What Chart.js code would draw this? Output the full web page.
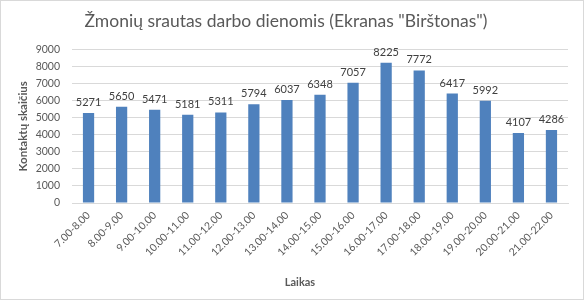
<!DOCTYPE html>
<html>
<head>
<meta charset="utf-8">
<script src="https://cdn.jsdelivr.net/npm/chart.js@4/dist/chart.umd.min.js"></script>
<style>
html,body{margin:0;padding:0;background:#fff;}
#wrap{width:584px;height:300px;position:relative;}
</style>
</head>
<body>
<div id="wrap"><canvas id="c" width="584" height="300"></canvas></div>
<script>
const categories = ["7.00-8.00","8.00-9.00","9.00-10.00","10.00-11.00","11.00-12.00","12.00-13.00","13.00-14.00","14.00-15.00","15.00-16.00","16.00-17.00","17.00-18.00","18.00-19.00","19.00-20.00","20.00-21.00","21.00-22.00"];
const contacts = [5271,5650,5471,5181,5311,5794,6037,6348,7057,8225,7772,6417,5992,4107,4286];
const yTicks = [0,1000,2000,3000,4000,5000,6000,7000,8000,9000];
const chartTitle = 'Žmonių srautas darbo dienomis (Ekranas "Birštonas")';
const yTitle = 'Kontaktų skaičius';
const xTitle = 'Laikas';

const FONT = 'Lato, "Open Sans", sans-serif';

const frame = {
  id: 'frame',
  beforeDraw(chart) {
    const ctx = chart.ctx;
    ctx.save();
    ctx.fillStyle = '#fff';
    ctx.fillRect(0, 0, chart.width, chart.height);
    ctx.strokeStyle = '#d9d9d9';
    ctx.lineWidth = 1;
    ctx.strokeRect(0.5, 0.5, chart.width - 1, chart.height - 1);
    ctx.restore();
  }
};

const labels = {
  id: 'labels',
  afterDatasetsDraw(chart) {
    const ctx = chart.ctx;
    const meta = chart.getDatasetMeta(0);
    ctx.save();
    ctx.font = '11px ' + FONT;
    ctx.fillStyle = '#404040';
    ctx.textAlign = 'center';
    ctx.textBaseline = 'bottom';
    meta.data.forEach((bar, i) => {
      ctx.fillText(String(contacts[i]), bar.x, bar.y - 5);
    });
    ctx.font = 'bold 11px ' + FONT;
    ctx.fillStyle = '#595959';
    ctx.textBaseline = 'middle';
    ctx.fillText(xTitle, 300, 282);
    ctx.restore();
  }
};

new Chart(document.getElementById('c'), {
  type: 'bar',
  data: {
    labels: categories,
    datasets: [{
      data: contacts,
      backgroundColor: '#4f81bd',
      borderWidth: 0,
      barPercentage: 0.34,
      categoryPercentage: 1
    }]
  },
  options: {
    responsive: false,
    animation: false,
    devicePixelRatio: 1,
    layout: { padding: { left: 4, right: 16, top: 10, bottom: 8 } },
    plugins: {
      legend: { display: false },
      tooltip: { enabled: false },
      title: {
        display: true,
        text: chartTitle,
        color: '#595959',
        font: { family: FONT, size: 17.5, weight: 'normal' },
        padding: { top: 1, bottom: 17.5 }
      }
    },
    scales: {
      x: {
        afterFit(s) { s.height = 89; },
        grid: { display: false, drawTicks: false },
        border: { color: '#d9d9d9' },
        ticks: {
          color: '#595959',
          font: { family: FONT, size: 10.5 },
          minRotation: 45, maxRotation: 45,
          padding: 6,
          autoSkip: false
        }
      },
      y: {
        min: 0, max: 9000,
        afterFit(s) { s.width = 68; },
        afterBuildTicks(s) { s.ticks = yTicks.map(v => ({ value: v })); },
        grid: { color: '#d9d9d9', drawTicks: false },
        border: { display: false },
        ticks: {
          color: '#595959',
          font: { family: FONT, size: 10.5 },
          padding: 12,
          callback: v => String(v)
        },
        title: {
          display: true,
          text: yTitle,
          color: '#595959',
          font: { family: FONT, size: 11.5, weight: 'bold' },
          padding: { top: 12, bottom: 0 }
        }
      }
    }
  },
  plugins: [frame, labels]
});
</script>
</body>
</html>
